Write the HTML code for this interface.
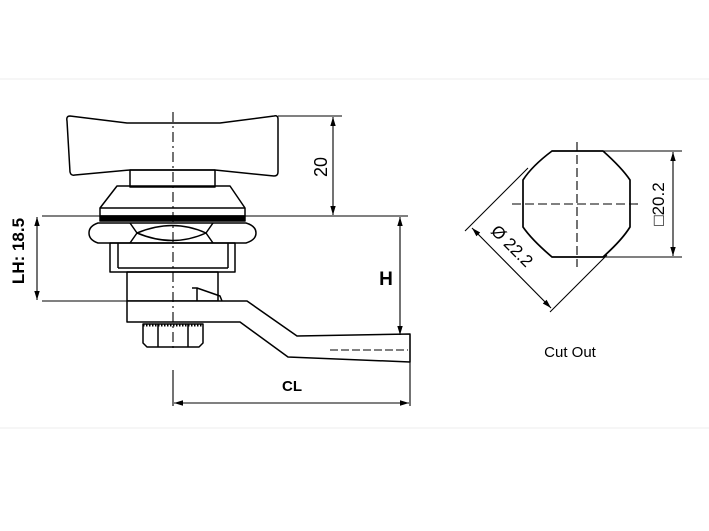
<!DOCTYPE html>
<html><head><meta charset="utf-8"><style>
html,body{margin:0;padding:0;background:#fff;}
svg{display:block;}
text{font-family:"Liberation Sans",sans-serif;fill:#000;}
</style></head><body>
<svg width="709" height="531" viewBox="0 0 709 531" xmlns="http://www.w3.org/2000/svg">
<defs>
<marker id="a" viewBox="0 0 10 10" refX="10" refY="5" markerWidth="9" markerHeight="9" orient="auto-start-reverse" markerUnits="userSpaceOnUse"><path d="M0,2 L10,5 L0,8 z" fill="#000"/></marker>
</defs>
<line x1="0" y1="79" x2="709" y2="79" stroke="#eee" stroke-width="1"/>
<line x1="0" y1="428" x2="709" y2="428" stroke="#eee" stroke-width="1"/>
<g fill="none" stroke="#000" stroke-width="1.5" stroke-linejoin="round">
<path d="M70,116 Q66,116 67,121 L70,172 Q71,176 75,175 L130,170 L215,170 L274,176 Q278,176 278,172 L278,119 Q278,115 274,116 L220,123 L127,123 Z" fill="#fff"/>
<rect x="130" y="170" width="85" height="17"/>
<path d="M117,186 L230,186 L245,208 L245,216 L100,216 L100,208 Z"/>
<line x1="100" y1="208" x2="245" y2="208"/>
<rect x="100" y="216" width="145" height="5" fill="#000"/>
<path d="M98,223 L246,223 Q256,226 256,233 Q256,240 246,243 L98,243 Q89,240 89,233 Q89,226 98,223 Z" fill="#fff"/>
<path d="M130,223 L137,233 L130,243 M213,223 L206,233 L213,243 M137,233 Q173,218 206,233 Q173,248 137,233"/>
<rect x="110" y="243" width="125" height="29"/>
<line x1="118" y1="243" x2="118" y2="268"/><line x1="228" y1="243" x2="228" y2="268"/>
<line x1="118" y1="268" x2="228" y2="268"/>
<rect x="127" y="272" width="91" height="29"/>
<path d="M192,288 L197,288 L197,301 M197,288 L220,296 L222,301"/>
<path d="M127,301 L247,301 L297,336 L410,334 L410,362 L288,357 L240,322 L127,322 Z" fill="#fff"/>
<path d="M143,324 L203,324 L203,343 L199,347 L147,347 L143,343 Z"/>
<line x1="158" y1="324" x2="158" y2="347"/><line x1="188" y1="324" x2="188" y2="347"/>
<line x1="143" y1="325" x2="203" y2="325" stroke-dasharray="1.5 1.5" stroke-width="3"/>
</g>
<g stroke="#000" stroke-width="1.1" fill="none">
<line x1="173" y1="112" x2="173" y2="350" stroke-dasharray="10 4 2 4"/>
<line x1="173" y1="370" x2="173" y2="406"/>
<line x1="330" y1="350" x2="408" y2="350" stroke-dasharray="8 3"/>
<line x1="42" y1="216" x2="408" y2="216"/>
<line x1="42" y1="301" x2="247" y2="301"/>
<line x1="278" y1="116" x2="342" y2="116"/>
<line x1="410" y1="335" x2="410" y2="406"/>
<line x1="333" y1="117" x2="333" y2="215" marker-start="url(#a)" marker-end="url(#a)"/>
<line x1="400" y1="217" x2="400" y2="335" marker-start="url(#a)" marker-end="url(#a)"/>
<line x1="37" y1="217" x2="37" y2="300" marker-start="url(#a)" marker-end="url(#a)"/>
<line x1="174" y1="403" x2="409" y2="403" marker-start="url(#a)" marker-end="url(#a)"/>
</g>
<text x="0" y="0" font-size="18" transform="translate(327,167) rotate(-90)" text-anchor="middle">20</text>
<text x="386" y="285" font-size="19" font-weight="bold" text-anchor="middle">H</text>
<text x="0" y="0" font-size="17" font-weight="bold" transform="translate(24,251) rotate(-90)" text-anchor="middle">LH: 18.5</text>
<text x="292" y="391" font-size="15" font-weight="bold" text-anchor="middle">CL</text>
<path d="M552,151 L603,151 Q622,168 630,180 L630,227 Q622,240 603,257 L552,257 Q532,240 523,227 L523,180 Q532,166 552,151 Z" fill="none" stroke="#000" stroke-width="1.7"/>
<g stroke="#000" stroke-width="1.1" fill="none">
<line x1="512" y1="204" x2="642" y2="204" stroke-dasharray="9 4"/>
<line x1="577" y1="142" x2="577" y2="267" stroke-dasharray="9 4"/>
<line x1="603" y1="151" x2="682" y2="151"/>
<line x1="603" y1="257" x2="682" y2="257"/>
<line x1="673" y1="152" x2="673" y2="256" marker-start="url(#a)" marker-end="url(#a)"/>
<line x1="528" y1="168" x2="465" y2="231"/>
<line x1="607" y1="255" x2="550" y2="312"/>
<line x1="472" y1="228" x2="551" y2="308" marker-start="url(#a)" marker-end="url(#a)"/>
</g>
<text x="0" y="0" font-size="17" transform="translate(664,204) rotate(-90)" text-anchor="middle">□20.2</text>
<text x="0" y="0" font-size="17" transform="translate(508,250) rotate(45)" text-anchor="middle">Ø 22.2</text>
<text x="570" y="357" font-size="15" text-anchor="middle" font-family="DejaVu Sans, sans-serif">Cut Out</text>
</svg>
</body></html>
